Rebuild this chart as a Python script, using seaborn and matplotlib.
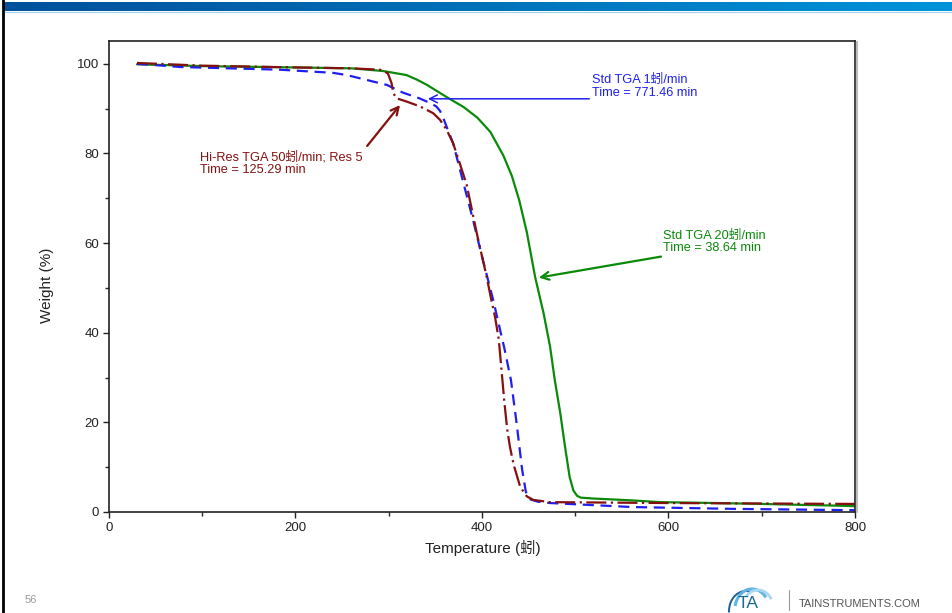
import numpy as np
import pandas as pd
import matplotlib
matplotlib.use("Agg")
import matplotlib.pyplot as plt
from matplotlib.patches import Arc
import seaborn as sns

# --- data -------------------------------------------------------------
temp_20 = [30, 100, 200, 260, 294, 319, 330, 341, 362, 380, 395, 409, 423, 432, 440, 448,
           457, 466, 473, 478, 484, 489, 494, 498, 502, 506, 520, 560, 591, 650, 700, 784, 800]
wt_20 = [99.9, 99.5, 99.2, 99.0, 98.4, 97.5, 96.5, 95.3, 92.6, 90.4, 88.0, 84.8, 79.5, 75.0, 69.5, 62.5,
         52.4, 44.4, 36.9, 29.5, 22.0, 14.6, 7.8, 4.8, 3.6, 3.2, 3.0, 2.6, 2.2, 2.0, 1.8, 1.4, 1.3]

temp_1 = [30, 58, 76, 183, 240, 255, 298, 315, 333, 345, 351, 355, 358.5, 362, 369, 380, 390, 400,
          412, 424, 431, 437, 443, 447, 452, 460, 473, 562, 669, 800]
wt_1 = [100.0, 99.6, 99.3, 98.7, 98.0, 97.5, 95.3, 93.6, 92.3, 91.2, 90.5, 89.5, 87.9, 86.0, 82.3, 73.5, 65.5, 57.0,
        47.3, 36.5, 29.5, 20.0, 9.5, 4.5, 2.8, 2.3, 2.0, 1.1, 0.7, 0.4]

temp_hr = [30, 100, 200, 260, 290.6, 299, 303, 305, 308.5, 319, 333.5, 347.6, 355, 362, 369, 376,
           383.6, 394.3, 405, 410, 414, 418, 421, 424, 427, 430, 434, 441, 448, 455, 473, 600, 800]
wt_hr = [100.2, 99.6, 99.2, 99.0, 98.7, 97.9, 95.7, 93.4, 92.3, 91.6, 90.5, 89.0, 87.5, 85.3, 82.3, 77.9,
         73.0, 62.3, 52.5, 47.3, 43.5, 38.5, 31.5, 24.5, 18.5, 14.5, 10.5, 5.6, 3.5, 2.7, 2.2, 2.0, 1.8]

x_ticks = [0, 200, 400, 600, 800]
y_ticks = [0, 20, 40, 60, 80, 100]

# --- style ------------------------------------------------------------
sns.set_theme(style="ticks")
plt.rcParams["font.family"] = ["Liberation Sans", "Noto Sans CJK SC", "DejaVu Sans"]

W, H = 953, 613
fig = plt.figure(figsize=(W / 100, H / 100), dpi=100)
fig.patch.set_facecolor("white")

def fx(px):
    return px / W

def fy(py):
    return 1 - py / H

ax = fig.add_axes([fx(109), fy(512), fx(855) - fx(109), fy(41) - fy(512)])

c_green = "#0a8a0a"
c_blue = "#1f1ff0"
c_red = "#851010"

df20 = pd.DataFrame({"T": temp_20, "W": wt_20})
df1 = pd.DataFrame({"T": temp_1, "W": wt_1})
dfhr = pd.DataFrame({"T": temp_hr, "W": wt_hr})

sns.lineplot(data=df20, x="T", y="W", ax=ax, sort=False, estimator=None,
             color=c_green, lw=1.6)
sns.lineplot(data=df1, x="T", y="W", ax=ax, sort=False, estimator=None,
             color=c_blue, lw=1.6, linestyle=(0, (5, 3)))
sns.lineplot(data=dfhr, x="T", y="W", ax=ax, sort=False, estimator=None,
             color=c_red, lw=1.6, linestyle=(0, (9, 2, 1, 2)))

ax.set_xlim(0, 800)
ax.set_ylim(0, 105.1)
ax.set_xticks(x_ticks)
ax.set_yticks(y_ticks)
ax.set_xticks([100, 300, 500, 700], minor=True)
ax.set_yticks([10, 30, 50, 70, 90], minor=True)
ax.tick_params(axis="both", which="major", direction="out", length=4, width=1,
               labelsize=9.5, colors="#222222", pad=3)
ax.tick_params(axis="both", which="minor", direction="out", length=3, width=1)
for s in ax.spines.values():
    s.set_visible(True)
    s.set_color("#222222")
    s.set_linewidth(1.2)

ax.set_xlabel("Temperature (蚓)", fontsize=11, color="#222222")
ax.set_ylabel("Weight (%)", fontsize=11, color="#222222")
ax.xaxis.set_label_coords(0.501, -0.060)
ax.yaxis.set_label_coords(-0.074, 0.482)

# --- annotations ------------------------------------------------------
fs = 9.2
ax.text(518, 96.4, "Std TGA 1蚓/min", color=c_blue, fontsize=fs, va="center", ha="left")
ax.text(518, 93.5, "Time = 771.46 min", color=c_blue, fontsize=fs, va="center", ha="left")
ax.annotate("", xy=(339, 92.2), xytext=(518, 92.2),
            arrowprops=dict(arrowstyle="->", color=c_blue, lw=1.1, mutation_scale=14))

ax.text(594, 61.6, "Std TGA 20蚓/min", color=c_green, fontsize=fs, va="center", ha="left")
ax.text(594, 58.9, "Time = 38.64 min", color=c_green, fontsize=fs, va="center", ha="left")
ax.annotate("", xy=(458, 52.2), xytext=(595, 57.1),
            arrowprops=dict(arrowstyle="->", color=c_green, lw=1.6, mutation_scale=14))

ax.text(97.6, 79.2, "Hi-Res TGA 50蚓/min; Res 5", color=c_red, fontsize=fs, va="center", ha="left")
ax.text(97.6, 76.3, "Time = 125.29 min", color=c_red, fontsize=fs, va="center", ha="left")
ax.annotate("", xy=(314, 91.3), xytext=(275, 81.2),
            arrowprops=dict(arrowstyle="->", color=c_red, lw=1.6, mutation_scale=14))

# shadow along the right edge of the plot frame
fig.add_artist(plt.Line2D([fx(857.5), fx(857.5)], [fy(42), fy(512)], color="#bbbbbb", lw=1.5))

# --- slide decoration -------------------------------------------------
bar = fig.add_axes([fx(4), fy(11), 1 - fx(4), fy(2) - fy(11)])
grad = np.linspace(0, 1, 256).reshape(1, -1)
cmap = matplotlib.colors.LinearSegmentedColormap.from_list("band", ["#00509a", "#0093d9"])
bar.imshow(grad, aspect="auto", cmap=cmap, extent=[0, 1, 0, 1])
bar.set_axis_off()
fig.add_artist(plt.Line2D([fx(4), 1], [fy(11.5), fy(11.5)], color="#9fd0ee", lw=0.8))

fig.add_artist(plt.Line2D([fx(3), fx(3)], [0, 1], color="black", lw=2))

fig.text(fx(25), fy(600), "56", fontsize=8, color="#9a9a9a", va="center", ha="left")
fig.text(fx(799), fy(604), "TAINSTRUMENTS.COM", fontsize=8, color="#555555",
         va="center", ha="left")
fig.add_artist(plt.Line2D([fx(789), fx(789)], [fy(610), fy(590)], color="#999999", lw=0.8))

logo = fig.add_axes([fx(716), fy(613), fx(790) - fx(716), fy(573) - fy(613)])
logo.set_xlim(0, 74)
logo.set_ylim(0, 40)
logo.set_axis_off()
logo.add_patch(Arc((30, 2), 34, 40, theta1=75, theta2=185, color="#1b5f8e", lw=1.4))
logo.add_patch(Arc((36, 4), 34, 40, theta1=40, theta2=170, color="#5fb4e5", lw=2.2))
logo.add_patch(Arc((42, 6), 30, 34, theta1=30, theta2=140, color="#a9d8f2", lw=2.0))
logo.text(22, 9, "TA", fontsize=12.5, color="#1b6a94", va="center", ha="left")

fig.savefig("out.png", dpi=100, facecolor="white")
